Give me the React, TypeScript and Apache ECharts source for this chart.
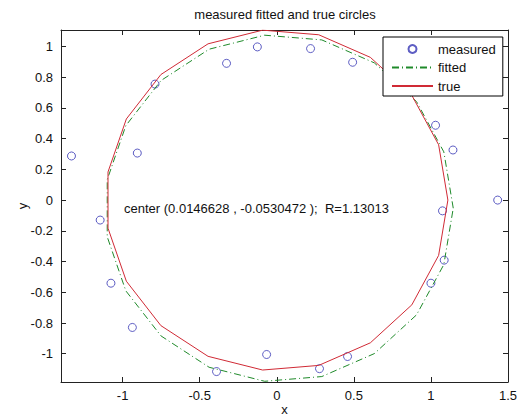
import React, { useEffect, useRef } from "react";
import * as echarts from "echarts";

// measured points
const measuredX = [-0.79, -0.326, -0.126, 0.219, 0.492, 1.03, -1.332, -0.905, 1.143, 1.433, -1.146, 1.075, 1.086, -1.076, -0.937, -0.391, -0.066, 0.277, 0.459, 1.0];
const measuredY = [0.755, 0.89, 0.997, 0.986, 0.897, 0.487, 0.287, 0.306, 0.326, 0.0, -0.13, -0.07, -0.391, -0.541, -0.829, -1.116, -1.005, -1.097, -1.018, -0.541];

// fitted circle polygon vertices
const fittedX = [1.1448, 1.0836, 0.9065, 0.6328, 0.2921, -0.0787, -0.4393, -0.7507, -0.9793, -1.1001, -1.1001, -0.9793, -0.7507, -0.4393, -0.0787, 0.2921, 0.6328, 0.9065, 1.0836, 1.1448];
const fittedY = [-0.053, 0.3139, 0.6411, 0.8931, 1.0425, 1.0732, 0.9819, 0.7784, 0.4848, 0.133, -0.2391, -0.5909, -0.8845, -1.088, -1.1793, -1.1486, -0.9992, -0.7472, -0.42, -0.053];

// true circle polygon vertices
const trueX = [1.11, 1.05, 0.876, 0.607, 0.272, -0.092, -0.446, -0.752, -0.976, -1.095, -1.095, -0.976, -0.752, -0.446, -0.092, 0.272, 0.607, 0.876, 1.05, 1.11];
const trueY = [0.0, 0.36, 0.682, 0.929, 1.076, 1.106, 1.017, 0.817, 0.528, 0.183, -0.183, -0.528, -0.817, -1.017, -1.106, -1.076, -0.929, -0.682, -0.36, 0.0];

const xTicks = [-1, -0.5, 0, 0.5, 1, 1.5];
const yTicks = [-1, -0.8, -0.6, -0.4, -0.2, 0, 0.2, 0.4, 0.6, 0.8, 1];

const titleText = "measured fitted and true circles";
const annotation = "center (0.0146628 , -0.0530472 );  R=1.13013";
const legendNames = ["measured", "fitted", "true"];

const FONT = '"Liberation Sans", Arial, sans-serif';
const AXIS_COLOR = "#222";
const BLUE = "#3434b4";
const GREEN = "#1f8a2a";
const RED = "#d02a35";

export default function App() {
  const ref = useRef<HTMLDivElement>(null);
  useEffect(() => {
    if (!ref.current) return;
    const chart = echarts.init(ref.current, undefined, { renderer: "svg" });
    const zip = (xs: number[], ys: number[]) => xs.map((x, i) => [x, ys[i]]);
    const xMin = -1.4, xMax = 1.5, yMin = -1.184, yMax = 1.107;
    const baseX = {
      type: "value" as const,
      min: xMin,
      max: xMax,
      splitLine: { show: false },
      axisLine: { show: true, onZero: false, lineStyle: { color: AXIS_COLOR, width: 1 } },
      axisTick: { show: true, inside: true, length: 5, customValues: xTicks, lineStyle: { color: AXIS_COLOR } },
    };
    const baseY = {
      type: "value" as const,
      min: yMin,
      max: yMax,
      splitLine: { show: false },
      axisLine: { show: true, onZero: false, lineStyle: { color: AXIS_COLOR, width: 1 } },
      axisTick: { show: true, inside: true, length: 5, customValues: yTicks, lineStyle: { color: AXIS_COLOR } },
    };
    chart.setOption({
      animation: false,
      backgroundColor: "#fff",
      title: {
        text: titleText,
        left: 285,
        top: 8,
        textAlign: "center",
        padding: 0,
        textStyle: { fontSize: 13, fontWeight: "normal", color: "#111", fontFamily: FONT },
      },
      legend: {
        data: [
          { name: legendNames[0] },
          { name: legendNames[1], itemStyle: { opacity: 0 } },
          { name: legendNames[2], itemStyle: { opacity: 0 } },
        ],
        orient: "vertical",
        left: 383,
        top: 37,
        itemWidth: 41,
        itemHeight: 8,
        itemGap: 4.5,
        padding: [5, 7, 3, 8],
        borderColor: "#000",
        borderWidth: 1,
        borderRadius: 0,
        backgroundColor: "#fff",
        selectedMode: false,
        textStyle: { fontSize: 13, color: "#111", fontFamily: FONT, lineHeight: 14 },
      },
      grid: { left: 61, right: 12, top: 30, bottom: 36, containLabel: false, outerBoundsMode: "none" },
      xAxis: [
        {
          ...baseX,
          position: "bottom",
          name: "x",
          nameLocation: "middle",
          nameGap: 21,
          nameMoveOverlap: false,
          nameTextStyle: { fontSize: 13, color: "#111", fontFamily: FONT },
          axisLabel: { customValues: xTicks, fontSize: 13, color: "#111", fontFamily: FONT, margin: 7 },
        },
        { ...baseX, position: "top", axisLabel: { show: false } },
      ],
      yAxis: [
        {
          ...baseY,
          position: "left",
          name: "y",
          nameLocation: "middle",
          nameGap: 32,
          nameMoveOverlap: false,
          nameTextStyle: { fontSize: 13, color: "#111", fontFamily: FONT },
          axisLabel: { customValues: yTicks, fontSize: 13, color: "#111", fontFamily: FONT, margin: 8 },
        },
        { ...baseY, position: "right", axisLabel: { show: false } },
      ],
      series: [
        {
          name: "measured",
          type: "scatter",
          data: zip(measuredX, measuredY),
          symbol: "circle",
          symbolSize: 8,
          z: 1,
          itemStyle: { color: "rgba(0,0,0,0)", borderColor: BLUE, borderWidth: 1 },
        },
        {
          name: "fitted",
          type: "line",
          data: zip(fittedX, fittedY),
          symbol: "none",
          z: 2,
          lineStyle: { color: GREEN, width: 1, type: [7, 3, 1, 3] },
          itemStyle: { color: GREEN },
        },
        {
          name: "true",
          type: "line",
          data: zip(trueX, trueY),
          symbol: "none",
          z: 3,
          lineStyle: { color: RED, width: 1 },
          itemStyle: { color: RED },
        },
      ],
      graphic: [
        {
          type: "text",
          left: 124,
          top: 202,
          style: { text: annotation, font: `13px ${FONT}`, fill: "#111" },
        },
      ],
    });
    return () => chart.dispose();
  }, []);
  return <div ref={ref} style={{ position: "fixed", left: 0, top: 0, width: 520, height: 418 }} />;
}
